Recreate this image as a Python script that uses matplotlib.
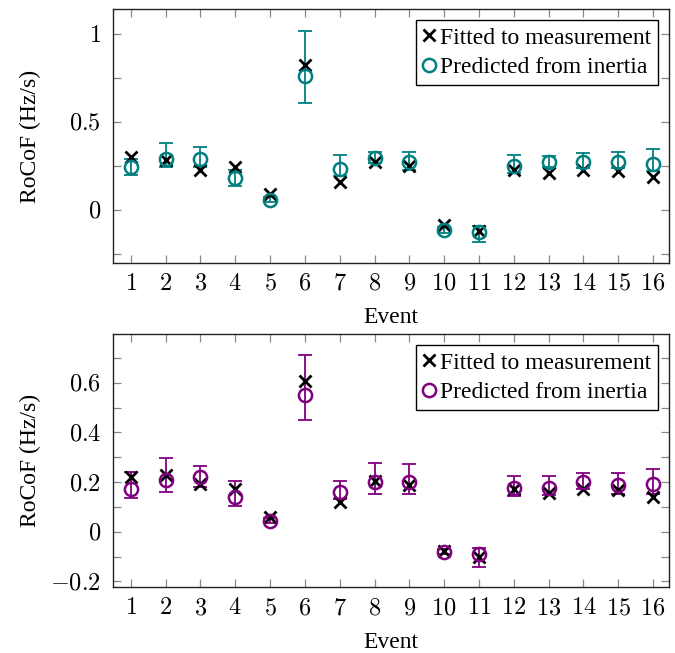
import numpy as np
import matplotlib
matplotlib.use("Agg")
import matplotlib.pyplot as plt
from matplotlib.ticker import MultipleLocator, FuncFormatter

plt.rcParams["font.family"] = ["Liberation Serif", "DejaVu Serif"]
plt.rcParams["mathtext.fontset"] = "cm"

events = np.arange(1, 17)

# top panel (teal)
fit_top = [0.30, 0.28, 0.225, 0.244, 0.089, 0.822, 0.159, 0.273,
           0.25, -0.087, -0.121, 0.225, 0.206, 0.225, 0.222, 0.187]
pred_top = [0.244, 0.29, 0.29, 0.178, 0.058, 0.76, 0.229, 0.295,
            0.269, -0.116, -0.125, 0.25, 0.273, 0.273, 0.273, 0.26]
lo_top = [0.197, 0.245, 0.244, 0.134, 0.045, 0.608, 0.19, 0.263,
          0.225, -0.13, -0.182, 0.206, 0.244, 0.235, 0.24, 0.22]
hi_top = [0.29, 0.377, 0.358, 0.225, 0.075, 1.015, 0.31, 0.33,
          0.33, -0.10, -0.093, 0.31, 0.305, 0.32, 0.33, 0.343]

# bottom panel (purple)
fit_bot = [0.221, 0.228, 0.192, 0.170, 0.06, 0.608, 0.121, 0.205,
           0.188, -0.078, -0.10, 0.174, 0.154, 0.174, 0.168, 0.141]
pred_bot = [0.174, 0.208, 0.221, 0.141, 0.044, 0.55, 0.161, 0.199,
            0.199, -0.081, -0.09, 0.178, 0.178, 0.201, 0.188, 0.192]
lo_bot = [0.134, 0.158, 0.181, 0.103, 0.035, 0.45, 0.130, 0.150,
          0.152, -0.09, -0.144, 0.144, 0.148, 0.17, 0.150, 0.15]
hi_bot = [0.239, 0.295, 0.264, 0.205, 0.055, 0.711, 0.205, 0.278,
          0.271, -0.07, -0.067, 0.225, 0.224, 0.238, 0.235, 0.251]

FS = 17


def fmt(v, pos):
    if abs(v) < 1e-9:
        return "$0$"
    return f"${v:g}$"


def panel(ax, fit, pred, lo, hi, color, ylim, major, minor):
    pred = np.array(pred)
    yerr = [pred - np.array(lo), np.array(hi) - pred]
    ax.errorbar(events, pred, yerr=yerr, fmt="none", ecolor=color,
                elinewidth=1.3, capsize=5, capthick=1.3, zorder=2)
    ax.plot(events, fit, ls="none", marker="x", ms=9, mew=2,
            color="black", label="Fitted to measurement", zorder=3)
    ax.plot(events, pred, ls="none", marker="o", ms=9.5, mew=1.8,
            mfc="none", mec=color, label="Predicted from inertia", zorder=4)

    ax.set_xlim(0.5, 16.45)
    ax.set_ylim(*ylim)
    ax.set_xticks(events)
    ax.xaxis.set_major_formatter(FuncFormatter(lambda v, p: f"${int(v)}$"))
    ax.yaxis.set_major_locator(MultipleLocator(major))
    ax.yaxis.set_minor_locator(MultipleLocator(minor))
    ax.yaxis.set_major_formatter(FuncFormatter(fmt))
    ax.tick_params(which="both", direction="in", top=True, right=True,
                   length=6, width=0.9, color="#888888", labelsize=17.5)
    ax.tick_params(axis="x", pad=8)
    ax.tick_params(axis="y", pad=9)
    for sp in ax.spines.values():
        sp.set_linewidth(1.0)
        sp.set_color("#222222")
    ax.set_xlabel("Event", fontsize=FS, va="top")
    ax.set_ylabel("RoCoF (Hz/s)", fontsize=FS)
    ax.xaxis.set_label_coords(0.5, -0.175)
    ax.yaxis.set_label_coords(-0.13, 0.5)
    ax.legend(loc="upper right", fontsize=FS, frameon=True, fancybox=False,
              edgecolor="black", framealpha=1, handlelength=0.45,
              handletextpad=0.25, borderpad=0.3, labelspacing=0.35,
              borderaxespad=0.45)


fig = plt.figure(figsize=(6.75, 6.53), dpi=100)
ax1 = fig.add_axes([0.168, 0.5977, 0.8227, 0.388])
ax2 = fig.add_axes([0.168, 0.1006, 0.8227, 0.3874])

panel(ax1, fit_top, pred_top, lo_top, hi_top, "#008080", (-0.301, 1.139), 0.5, 0.25)
panel(ax2, fit_bot, pred_bot, lo_bot, hi_bot, "#800080", (-0.224, 0.795), 0.2, 0.1)

fig.savefig("out.png", dpi=100)
